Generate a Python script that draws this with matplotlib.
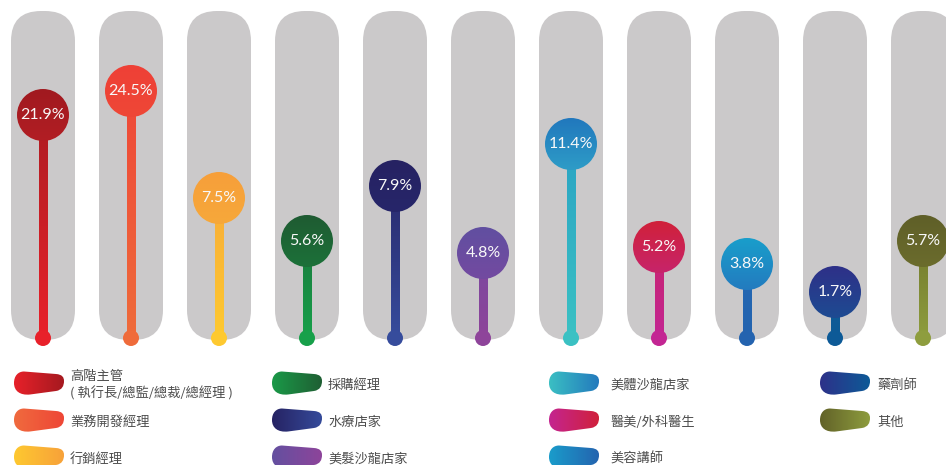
import numpy as np
import matplotlib.pyplot as plt
from matplotlib.patches import FancyBboxPatch, Circle, Rectangle, PathPatch
from matplotlib.path import Path
from matplotlib.colors import to_rgb

labels = ['高階主管\n( 執行長/總監/總裁/總經理 )', '業務開發經理', '行銷經理',
          '採購經理', '水療店家', '美髮沙龍店家',
          '美體沙龍店家', '醫美/外科醫生', '美容講師',
          '藥劑師', '其他']
values = [21.9, 24.5, 7.5, 5.6, 7.9, 4.8, 11.4, 5.2, 3.8, 1.7, 5.7]
# drawn stem height of each lollipop (px above the base dot)
stem_heights = [223, 247, 140, 97, 152, 85, 194, 91, 74, 46, 97]

# colours: bubble top/bottom, stem top/bottom (the base dot uses stem bottom)
bubble_top = ['#A0191F', '#EE4036', '#F69F3A', '#1F5B32', '#262262', '#614FA0',
              '#2178BD', '#D0213A', '#199ECB', '#2E3088', '#5F5F28']
bubble_bot = ['#B21E24', '#EF4737', '#F7A83A', '#1C7139', '#27266A', '#734AA0',
              '#2E9CC7', '#C7246A', '#237BBF', '#1E4B92', '#6B6C2D']
stem_top = ['#AE1D23', '#EE4838', '#F8AD39', '#1A7A3D', '#2A2A6E', '#7A499F',
            '#2BA4C4', '#C8246F', '#2368B3', '#115A96', '#737A2E']
stem_bot = ['#E8212A', '#EF6B3B', '#FEC930', '#17A04A', '#364C9C', '#8E449A',
            '#3BC1C3', '#C32693', '#2463AF', '#0D5A97', '#8E9D3E']
legend_left = ['#E8212A', '#F06B3E', '#FEC930', '#1A9A48', '#262262', '#6350A0',
               '#3BC0C3', '#C42591', '#1A9DCB', '#2E3189', '#616128']
legend_right = ['#A3191F', '#EE4536', '#F7A03A', '#1F5E33', '#354B9B', '#8E449A',
                '#2379BD', '#D0203A', '#2463AF', '#0D5A97', '#8E9D3E']

W, H = 946, 465
fig = plt.figure(figsize=(W / 100, H / 100), dpi=100)
ax = fig.add_axes([0, 0, 1, 1])
ax.set_xlim(0, W)
ax.set_ylim(H, 0)
ax.axis('off')

cjk = ['Noto Sans CJK TC', 'DejaVu Sans']


def grad_fill(patch, extent, c0, c1, vertical=True):
    t = np.linspace(0, 1, 64)
    a, b = np.array(to_rgb(c0)), np.array(to_rgb(c1))
    g = a[None, :] * (1 - t[:, None]) + b[None, :] * t[:, None]
    img = g[:, None, :] if vertical else g[None, :, :]
    im = ax.imshow(img, extent=extent, origin='lower', aspect='auto',
                   interpolation='bilinear', zorder=patch.get_zorder())
    im.set_clip_path(patch)


x0, dx = 43, 88
pill_w, pill_top, pill_bot = 64, 11, 340
base_y = 338
r_bub, r_dot, stem_w = 26, 8, 9

for i, v in enumerate(values):
    cx = x0 + dx * i
    pill = FancyBboxPatch((cx - pill_w / 2, pill_top), pill_w, pill_bot - pill_top,
                          boxstyle='round,pad=0,rounding_size=30',
                          fc='#CBC9CA', ec='none', zorder=1)
    ax.add_patch(pill)

    cy = base_y - stem_heights[i]
    stem = Rectangle((cx - stem_w / 2, cy), stem_w, base_y - cy, fc='none', ec='none', zorder=2)
    ax.add_patch(stem)
    grad_fill(stem, (cx - stem_w / 2, cx + stem_w / 2, cy, base_y), stem_top[i], stem_bot[i])

    ax.add_patch(Circle((cx, base_y), r_dot, fc=stem_bot[i], ec='none', zorder=3))

    bub = Circle((cx, cy), r_bub, fc='none', ec='none', zorder=4)
    ax.add_patch(bub)
    grad_fill(bub, (cx - r_bub, cx + r_bub, cy - r_bub, cy + r_bub), bubble_top[i], bubble_bot[i])
    ax.text(cx, cy, f'{v}%', color='#F8F8F8', fontsize=11.5,
            family=['Lato', 'DejaVu Sans'], ha='center', va='center', zorder=5)

# legend with brush-stroke swatches
sw_verts = [(10, 0.5), (42, 3), (48, 3.5), (50, 6), (50, 10),
            (50, 15), (48, 19), (42, 20), (16, 23.5), (6, 24.5),
            (0, 20), (0, 12), (0, 5), (4, 0.5), (10, 0.5), (10, 0.5)]
sw_codes = [Path.MOVETO, Path.LINETO, Path.CURVE4, Path.CURVE4, Path.CURVE4,
            Path.CURVE4, Path.CURVE4, Path.CURVE4, Path.LINETO, Path.CURVE4,
            Path.CURVE4, Path.CURVE4, Path.CURVE4, Path.CURVE4, Path.CURVE4, Path.CLOSEPOLY]

col_x = [14, 272, 549, 820]
text_x = [70, 328, 610, 877]
row_y = [371, 408, 445]

for i, lab in enumerate(labels):
    c, r = divmod(i, 3)
    sx, sy = col_x[c], row_y[r]
    verts = [(sx + px, sy + py) for px, py in sw_verts]
    sw = PathPatch(Path(verts, sw_codes), fc='none', ec='none', zorder=2)
    ax.add_patch(sw)
    grad_fill(sw, (sx - 1, sx + 51, sy, sy + 25), legend_left[i], legend_right[i], vertical=False)
    ax.text(text_x[c], sy + 14, lab, color='#4D4D4D', fontsize=9.5, family=cjk,
            ha='left', va='center', linespacing=1.3)

fig.savefig('out.png', dpi=100)
